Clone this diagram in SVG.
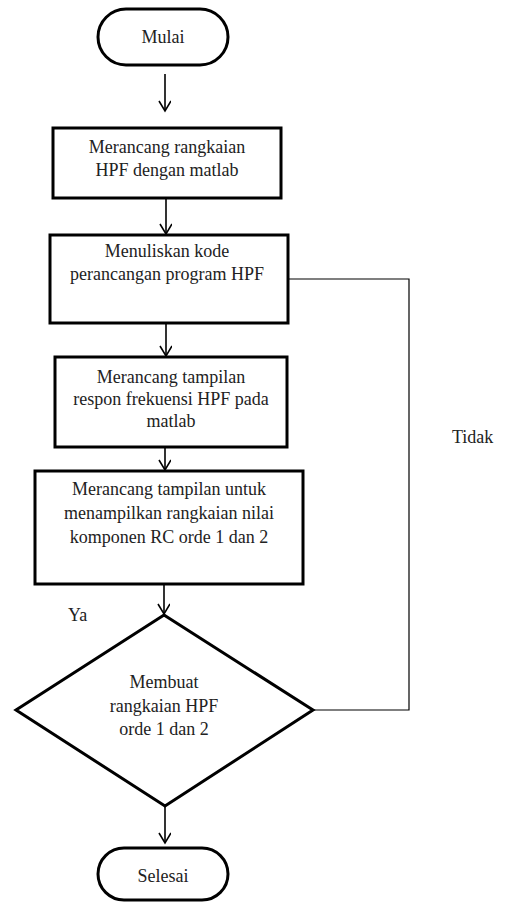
<svg xmlns="http://www.w3.org/2000/svg" width="507" height="902" viewBox="0 0 507 902">
<defs>
<marker id="arr" markerWidth="14" markerHeight="14" refX="11" refY="6" orient="auto" markerUnits="userSpaceOnUse" viewBox="0 0 14 14">
<path d="M1,0 L11,6 L1,12" fill="none" stroke="#000" stroke-width="1.6"/>
</marker>
</defs>
<style>
.shape{fill:#fff;stroke:#000;stroke-width:3;stroke-linejoin:miter}
.t{font-family:"Liberation Serif","Times New Roman",serif;font-size:18px;fill:#222;text-anchor:middle}
.lbl{font-family:"Liberation Serif","Times New Roman",serif;font-size:18px;fill:#222}
.con{fill:none;stroke:#000;stroke-width:1.6}
.thin{fill:none;stroke:#000;stroke-width:1.2}
</style>
<rect width="507" height="902" fill="#fff"/>
<g id="connectors">
<line class="con" x1="165" y1="74" x2="165" y2="111" marker-end="url(#arr)"/>
<line class="con" x1="166" y1="198" x2="166" y2="234" marker-end="url(#arr)"/>
<line class="con" x1="166" y1="323" x2="166" y2="356" marker-end="url(#arr)"/>
<line class="con" x1="165" y1="447" x2="165" y2="470" marker-end="url(#arr)"/>
<line class="con" x1="164" y1="584" x2="164" y2="614" marker-end="url(#arr)"/>
<line class="con" x1="165" y1="806" x2="165" y2="843" marker-end="url(#arr)"/>
<polyline class="thin" points="313,710 409,710 409,279 288,279"/>
</g>
<g id="start">
<rect class="shape" x="98" y="9" width="130" height="56" rx="28" ry="28"/>
<text class="t" x="163" y="43">Mulai</text>
</g>
<g id="box1">
<rect class="shape" x="53" y="128" width="228" height="70"/>
<text class="t" x="167" y="153">Merancang rangkaian</text>
<text class="t" x="167" y="176">HPF dengan matlab</text>
</g>
<g id="box2">
<rect class="shape" x="50" y="235" width="238" height="88"/>
<text class="t" x="167" y="257">Menuliskan kode</text>
<text class="t" x="167" y="280">perancangan program HPF</text>
</g>
<g id="box3">
<rect class="shape" x="55" y="357" width="232" height="90"/>
<text class="t" x="171" y="383">Merancang tampilan</text>
<text class="t" x="171" y="405">respon frekuensi HPF pada</text>
<text class="t" x="171" y="427">matlab</text>
</g>
<g id="box4">
<rect class="shape" x="35" y="471" width="268" height="113"/>
<text class="t" x="169" y="495">Merancang tampilan untuk</text>
<text class="t" x="169" y="519">menampilkan rangkaian nilai</text>
<text class="t" x="169" y="543">komponen RC orde 1 dan 2</text>
</g>
<g id="decision">
<polygon class="shape" points="164,615 313,710 165,806 16,710"/>
<text class="t" x="164" y="688">Membuat</text>
<text class="t" x="164" y="712">rangkaian HPF</text>
<text class="t" x="164" y="735">orde 1 dan 2</text>
</g>
<g id="end">
<rect class="shape" x="98" y="848" width="130" height="52" rx="26" ry="26"/>
<text class="t" x="163" y="882">Selesai</text>
</g>
<g id="labels">
<text class="lbl" x="68" y="621">Ya</text>
<text class="lbl" x="452" y="443">Tidak</text>
</g>
</svg>
